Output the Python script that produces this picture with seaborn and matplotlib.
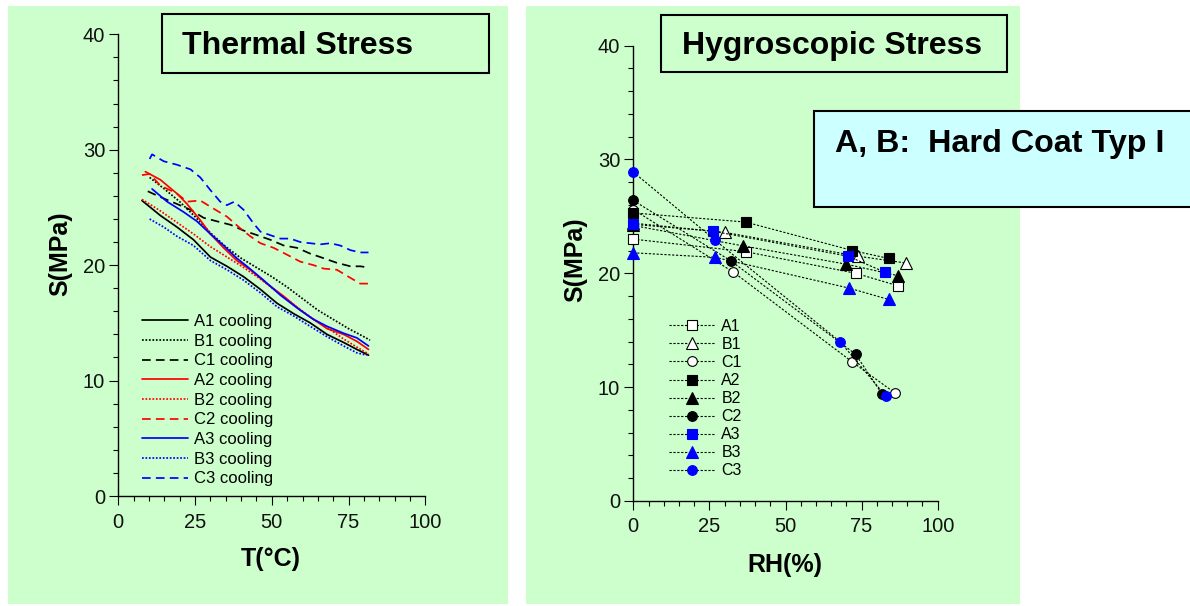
import matplotlib
matplotlib.use('Agg')
import matplotlib.pyplot as plt
import seaborn as sns
import pandas as pd
from matplotlib.patches import Rectangle
from matplotlib.ticker import MultipleLocator

sns.set_theme(style='white')
plt.rcParams['font.family'] = ['Liberation Sans', 'DejaVu Sans']
plt.rcParams['text.color'] = 'black'
plt.rcParams['axes.labelcolor'] = 'black'
plt.rcParams['xtick.color'] = 'black'
plt.rcParams['ytick.color'] = 'black'

# ---------------- data: thermal stress (left) ----------------
A1_T = [7.7, 13.7, 19.1, 24.5, 30.0, 35.4, 40.8, 46.3, 51.7, 57.1, 62.5, 68.0, 73.4, 77.7, 81.5]
A1_S = [25.6, 24.3, 23.3, 22.2, 20.7, 19.9, 19.0, 17.9, 16.7, 15.8, 15.0, 14.0, 13.3, 12.7, 12.2]
B1_T = [10.2, 15.0, 20.0, 25.0, 30.0, 35.0, 40.0, 45.0, 50.0, 55.0, 60.0, 65.0, 70.0, 75.0, 80.0, 82.0]
B1_S = [27.6, 26.6, 25.5, 24.2, 22.8, 21.6, 20.6, 19.8, 19.0, 18.1, 17.1, 16.1, 15.3, 14.5, 13.8, 13.5]
C1_T = [9.6, 13.7, 19.1, 23.5, 27.8, 32.1, 36.5, 40.8, 45.2, 49.5, 53.9, 58.2, 62.5, 66.9, 71.2, 75.6, 78.8, 81.5]
C1_S = [26.4, 25.9, 25.3, 24.8, 24.1, 23.8, 23.5, 23.0, 22.6, 22.2, 21.7, 21.5, 21.0, 20.6, 20.2, 19.9, 19.9, 19.8]
A2_T = [8.8, 13.7, 19.1, 22.4, 26.7, 30.0, 34.3, 38.6, 43.0, 48.4, 53.9, 59.3, 63.6, 68.0, 73.4, 77.7, 81.5]
A2_S = [28.1, 27.4, 26.2, 25.3, 23.9, 22.7, 21.5, 20.4, 19.6, 18.4, 17.3, 16.1, 15.3, 14.5, 14.0, 13.4, 12.7]
B2_T = [7.7, 13.7, 19.1, 24.5, 30.0, 35.4, 40.8, 46.3, 51.7, 57.1, 62.5, 68.0, 73.4, 77.7, 81.5]
B2_S = [25.7, 24.7, 23.7, 22.7, 21.6, 20.7, 19.8, 18.8, 17.7, 16.6, 15.5, 14.6, 13.6, 12.9, 12.3]
C2_T = [7.7, 10.2, 13.7, 19.1, 22.4, 26.7, 31.0, 35.4, 39.7, 43.0, 46.3, 50.6, 55.0, 59.3, 63.6, 66.9, 71.2, 75.6, 78.8, 81.5]
C2_S = [27.8, 27.9, 26.9, 26.2, 25.5, 25.6, 24.9, 24.2, 23.2, 22.5, 21.9, 21.5, 20.9, 20.3, 20.0, 19.7, 19.6, 18.9, 18.4, 18.4]
A3_T = [11.0, 15.9, 21.3, 25.6, 30.0, 34.3, 38.6, 41.9, 47.3, 52.8, 58.2, 63.6, 68.0, 73.4, 77.7, 81.5]
A3_S = [26.6, 25.5, 24.6, 23.8, 22.7, 21.7, 20.6, 19.9, 18.7, 17.4, 16.3, 15.3, 14.7, 14.1, 13.7, 13.0]
B3_T = [10.2, 14.8, 19.1, 24.5, 30.0, 35.4, 40.8, 46.3, 51.7, 57.1, 62.5, 68.0, 73.4, 77.7, 80.9]
B3_S = [24.0, 23.3, 22.5, 21.7, 20.4, 19.6, 18.7, 17.6, 16.4, 15.6, 14.7, 13.8, 13.0, 12.4, 12.2]
C3_T = [10.2, 11.0, 14.8, 19.1, 23.5, 26.7, 30.0, 33.2, 35.4, 37.8, 40.8, 44.1, 46.3, 49.5, 52.8, 56.0,
        59.3, 62.5, 65.8, 69.1, 72.3, 75.6, 78.8, 81.5]
C3_S = [29.2, 29.6, 29.0, 28.7, 28.3, 27.6, 26.5, 25.5, 25.2, 25.5, 24.8, 23.6, 22.9, 22.6, 22.3, 22.3,
        22.0, 21.9, 21.8, 21.9, 21.7, 21.3, 21.1, 21.1]

# ---------------- data: hygroscopic stress (right) ----------------
A1_RH = [0, 36.9, 73.1, 87.0];  A1_H = [23.0, 21.9, 20.0, 18.9]
B1_RH = [0, 30.0, 73.8, 89.7];  B1_H = [24.4, 23.6, 21.5, 20.9]
C1_RH = [0, 32.9, 72.0, 85.9];  C1_H = [25.6, 20.1, 12.2, 9.5]
A2_RH = [0, 36.9, 72.0, 84.0];  A2_H = [25.3, 24.5, 22.0, 21.3]
B2_RH = [0, 36.2, 70.0, 86.8];  B2_H = [24.2, 22.4, 20.8, 19.8]
C2_RH = [0, 32.0, 73.0, 81.7];  C2_H = [26.4, 21.1, 12.9, 9.4]
A3_RH = [0, 26.1, 70.6, 82.6];  A3_H = [24.3, 23.7, 21.5, 20.1]
B3_RH = [0, 26.9, 70.9, 83.9];  B3_H = [21.8, 21.4, 18.7, 17.7]
C3_RH = [0, 26.9, 67.9, 83.0];  C3_H = [28.9, 22.9, 14.0, 9.2]

thermal_labels = ['A1 cooling', 'B1 cooling', 'C1 cooling', 'A2 cooling', 'B2 cooling',
                  'C2 cooling', 'A3 cooling', 'B3 cooling', 'C3 cooling']
hygro_labels = ['A1', 'B1', 'C1', 'A2', 'B2', 'C2', 'A3', 'B3', 'C3']

thermal = [(A1_T, A1_S), (B1_T, B1_S), (C1_T, C1_S), (A2_T, A2_S), (B2_T, B2_S),
           (C2_T, C2_S), (A3_T, A3_S), (B3_T, B3_S), (C3_T, C3_S)]
hygro = [(A1_RH, A1_H), (B1_RH, B1_H), (C1_RH, C1_H), (A2_RH, A2_H), (B2_RH, B2_H),
         (C2_RH, C2_H), (A3_RH, A3_H), (B3_RH, B3_H), (C3_RH, C3_H)]

# ---------------- styling ----------------
W, H = 1190, 606
GREEN = '#CCFFCC'
CYAN = '#CCFFFF'
group_colors = ['#000000', '#FF0000', '#0000FF']
line_styles = ['-', (0, (1, 1)), (0, (5, 3))]
markers = ['s', '^', 'o']
msizes = [7.4, 8.2, 7.0]

fig = plt.figure(figsize=(W / 100, H / 100), dpi=100)
fig.patch.set_facecolor('white')


def add_rect(x0, y0, x1, y1, **kw):
    r = Rectangle((x0 / W, 1 - y1 / H), (x1 - x0) / W, (y1 - y0) / H,
                  transform=fig.transFigure, **kw)
    fig.add_artist(r)
    return r


# background panels
add_rect(8, 6, 508, 604, facecolor=GREEN, edgecolor='none', zorder=-10)
add_rect(526, 6, 1020, 604, facecolor=GREEN, edgecolor='none', zorder=-10)

axL = fig.add_axes([118.3 / W, 1 - 496 / H, 307 / W, 461.7 / H])
axR = fig.add_axes([633.3 / W, 1 - 501 / H, 304.4 / W, 455.4 / H])

for ax in (axL, axR):
    ax.set_facecolor('none')

# left: thermal curves
for i, ((t, s), lab) in enumerate(zip(thermal, thermal_labels)):
    g, st = divmod(i, 3)
    df = pd.DataFrame({'T': t, 'S': s})
    sns.lineplot(data=df, x='T', y='S', ax=axL, color=group_colors[g],
                 linestyle=line_styles[st], linewidth=1.25, label=lab,
                 estimator=None, sort=False)

# right: hygroscopic points
for i, ((rh, s), lab) in enumerate(zip(hygro, hygro_labels)):
    g, st = divmod(i, 3)
    if g == 0:
        fc, ec = 'white', 'black'
    elif g == 1:
        fc, ec = 'black', 'black'
    else:
        fc, ec = '#0000FF', '#0000FF'
    df = pd.DataFrame({'RH': rh, 'S': s})
    sns.lineplot(data=df, x='RH', y='S', ax=axR, color='black',
                 linestyle=(0, (2, 1.5)), linewidth=0.8, marker=markers[st],
                 markersize=msizes[st], markerfacecolor=fc, markeredgecolor=ec,
                 markeredgewidth=0.8, label=lab, estimator=None, sort=False,
                 clip_on=False, zorder=3)

for ax, xpad in ((axL, 6), (axR, 5)):
    ax.set_xlim(0, 100)
    ax.set_ylim(0, 40)
    ax.set_xticks([0, 25, 50, 75, 100])
    ax.set_yticks([0, 10, 20, 30, 40])
    ax.xaxis.set_minor_locator(MultipleLocator(5))
    ax.yaxis.set_minor_locator(MultipleLocator(2))
    ax.tick_params(which='major', direction='out', length=6.5, width=0.8,
                   color='black', labelsize=14.5, labelcolor='#111111',
                   left=True, bottom=True)
    ax.tick_params(which='minor', direction='out', length=3.6, width=0.8,
                   color='black', left=True, bottom=True)
    ax.tick_params(axis='x', which='major', pad=xpad)
    ax.tick_params(axis='y', which='major', pad=3)
    sns.despine(ax=ax)
    for sp in ('left', 'bottom'):
        ax.spines[sp].set_color('black')
        ax.spines[sp].set_linewidth(1.0)
    ax.grid(False)

axL.set_xlabel('T(°C)', fontsize=18, fontweight='bold', va='center', color='black')
axL.set_ylabel('S(MPa)', fontsize=18, fontweight='bold', va='center', color='black')
axL.xaxis.set_label_coords(0.497, -0.136)
axL.yaxis.set_label_coords(-0.19, 0.524)

axR.set_xlabel('RH(%)', fontsize=18, fontweight='bold', va='center', color='black')
axR.set_ylabel('S(MPa)', fontsize=18, fontweight='bold', va='center', color='black')
axR.xaxis.set_label_coords(0.498, -0.1405)
axR.yaxis.set_label_coords(-0.19, 0.53)

# legends
legL = axL.legend(loc='upper left', bbox_to_anchor=(142 / W, 1 - 314 / H),
                  bbox_transform=fig.transFigure, frameon=False, fontsize=12,
                  handlelength=2.76, handletextpad=0.36, labelspacing=0.28,
                  borderpad=0, borderaxespad=0)
legR = axR.legend(loc='upper left', bbox_to_anchor=(669 / W, 1 - 319 / H),
                  bbox_transform=fig.transFigure, frameon=False, fontsize=11.5,
                  handlelength=2.9, handletextpad=0.38, labelspacing=0.19,
                  borderpad=0, borderaxespad=0)
for leg in (legL, legR):
    for t in leg.get_texts():
        t.set_color('black')

# title boxes
add_rect(161.7, 14, 489, 72.7, facecolor=GREEN, edgecolor='black', linewidth=1.5, zorder=5)
fig.text(182 / W, 1 - 54 / H, 'Thermal Stress', fontsize=23, fontweight='bold',
         ha='left', va='baseline', color='black', zorder=6)
add_rect(661, 14.7, 1007, 72.2, facecolor=GREEN, edgecolor='black', linewidth=1.5, zorder=5)
fig.text(682 / W, 1 - 54 / H, 'Hygroscopic Stress', fontsize=23, fontweight='bold',
         ha='left', va='baseline', color='black', zorder=6)
add_rect(814, 110.7, 1195, 206.7, facecolor=CYAN, edgecolor='black', linewidth=1.5, zorder=5)
fig.text(835 / W, 1 - 151.7 / H, 'A, B:  Hard Coat Typ I', fontsize=23.2, fontweight='bold',
         ha='left', va='baseline', color='black', zorder=6)

fig.savefig('out.png', dpi=100, facecolor='white')
